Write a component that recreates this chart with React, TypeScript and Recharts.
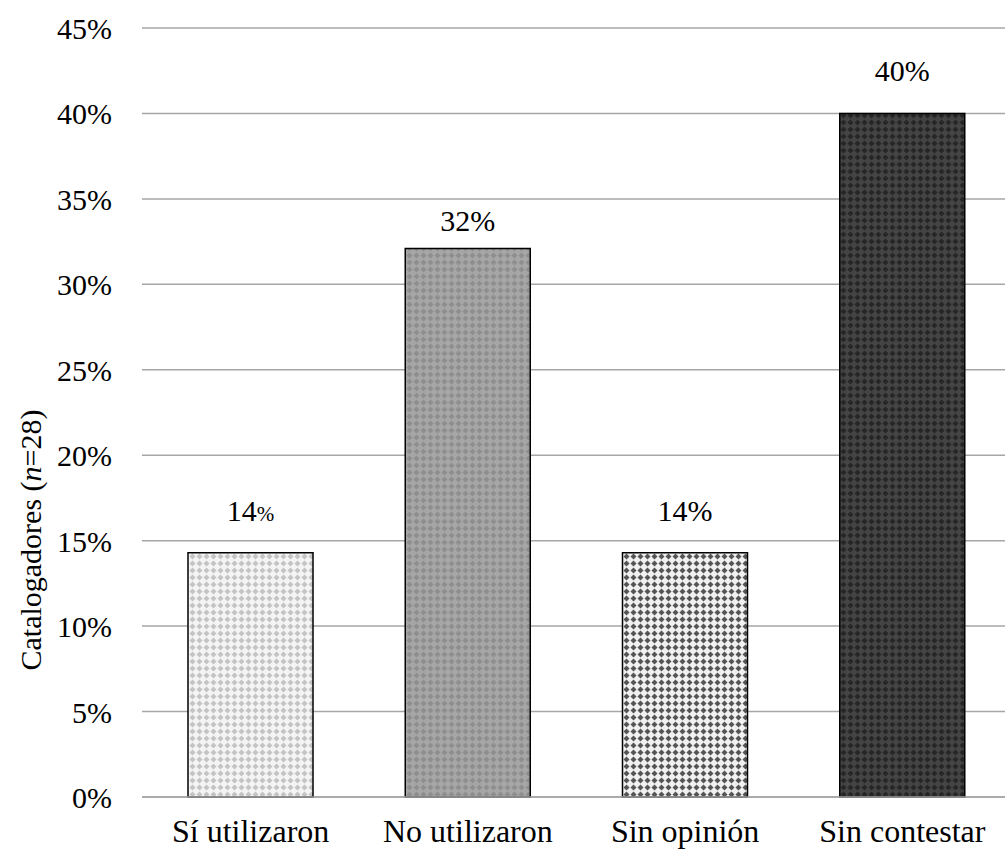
import React from 'react';
import { BarChart, Bar, XAxis, YAxis, CartesianGrid, LabelList, Cell } from 'recharts';

const categories = ['Sí utilizaron', 'No utilizaron', 'Sin opinión', 'Sin contestar'];
const percents = [14.3, 32.1, 14.3, 40];
const yTicks = [0, 5, 10, 15, 20, 25, 30, 35, 40, 45];

// pattern colours: background, diamonds
const fills = [
  { id: 'p0', bg: '#f4f4f4', fg: '#c4c4c4' },
  { id: 'p1', bg: '#a6a6a6', fg: '#8e8e8e' },
  { id: 'p2', bg: '#f0f0f0', fg: '#555555' },
  { id: 'p3', bg: '#444444', fg: '#262626' },
];

const data = categories.map((name, i) => ({ name, value: percents[i] }));

const FONT = '"Liberation Serif", "Times New Roman", serif';
const labelGap = [32, 17, 32, 32];

function YLabel() {
  const cx = 41;
  const cy = 540;
  return (
    <text
      x={cx}
      y={cy}
      transform={`rotate(-90, ${cx}, ${cy})`}
      textAnchor="middle"
      fontFamily={FONT}
      fontSize={30}
      fill="#000"
    >
      <tspan>Catalogadores (</tspan>
      <tspan fontStyle="italic">n</tspan>
      <tspan>=28)</tspan>
    </text>
  );
}

function XTick({ x, y, payload }: any) {
  return (
    <text x={x} y={y + 37} textAnchor="middle" fontFamily={FONT} fontSize={32} fill="#000">
      {payload.value}
    </text>
  );
}

function YTick({ y, payload }: any) {
  return (
    <text x={112} y={y + 11} textAnchor="end" fontFamily={FONT} fontSize={30} fill="#000">
      {`${payload.value}%`}
    </text>
  );
}

function BarLabel({ x, y, width, value, index }: any) {
  return (
    <text
      x={x + width / 2}
      y={y - labelGap[index]}
      textAnchor="middle"
      fontFamily={FONT}
      fontSize={30}
      fill="#000"
    >
      {Math.round(Number(value))}
      <tspan fontSize={index === 0 ? 21 : 30}>%</tspan>
    </text>
  );
}

export default function App() {
  return (
    <div
      style={{
        position: 'absolute',
        left: 0,
        top: 0,
        width: 1005,
        height: 851,
        overflow: 'hidden',
        background: '#fff',
        fontFamily: FONT,
      }}
    >
      <BarChart
        width={1011}
        height={851}
        data={data}
        margin={{ top: 28, right: 0, bottom: 0, left: 0 }}
      >
        <defs>
          {fills.map((f) => (
            <pattern key={f.id} id={f.id} width={7} height={7} patternUnits="userSpaceOnUse">
              <rect width={7} height={7} fill={f.bg} />
              <path d="M3.5 0.5 L6.5 3.5 L3.5 6.5 L0.5 3.5 Z" fill={f.fg} />
            </pattern>
          ))}
        </defs>
        <CartesianGrid horizontal vertical={false} stroke="#a6a6a6" strokeWidth={1.5} />
        <XAxis
          dataKey="name"
          tickLine={false}
          axisLine={{ stroke: '#a6a6a6', strokeWidth: 1.5 }}
          height={54}
          tick={<XTick />}
          interval={0}
        />
        <YAxis
          width={142}
          domain={[0, 45]}
          ticks={yTicks}
          tickLine={false}
          axisLine={false}
          tick={<YTick />}
          label={<YLabel />}
        />
        <Bar dataKey="value" barSize={125} stroke="#000" strokeWidth={1.5} isAnimationActive={false}>
          {data.map((d, i) => (
            <Cell key={d.name} fill={`url(#${fills[i].id})`} />
          ))}
          <LabelList dataKey="value" content={<BarLabel />} />
        </Bar>
      </BarChart>
    </div>
  );
}
